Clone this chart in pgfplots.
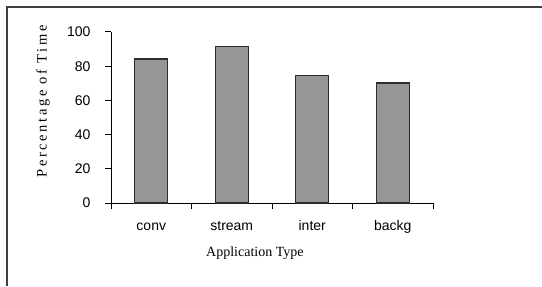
\documentclass[border=0pt]{standalone}
\usepackage{fontspec}
\setmainfont{Liberation Serif}
\newfontfamily\arial{Liberation Sans}
\newfontfamily\spaced[LetterSpace=18]{Liberation Serif}
\usepackage{pgfplots}
\pgfplotsset{compat=1.18}
\definecolor{barfill}{RGB}{150,150,150}
\definecolor{baredge}{RGB}{45,45,45}
\definecolor{frame}{RGB}{64,64,64}
\begin{document}
\begin{tikzpicture}[x=1bp,y=1bp]
\useasboundingbox (0,0) rectangle (542,286);
\draw[line width=1.2bp, frame] (7,0) -- (7,279) -- (542,279);
\begin{axis}[
  at={(111bp,83bp)}, anchor=south west,
  scale only axis, width=322bp, height=171bp,
  xmin=-0.5, xmax=3.5, ymin=0, ymax=100,
  axis x line=bottom, axis y line=left,
  axis line style={-, black, line width=1bp},
  tick align=outside,
  tick style={black, line width=1bp},
  major tick length=6bp,
  ytick={0,20,40,60,80,100},
  xtick={-0.5,0.5,1.5,2.5,3.5},
  xticklabels={},
  extra x ticks={0,1,2,3},
  extra x tick labels={conv,stream,inter,backg},
  extra x tick style={major tick length=0pt, tick label style={anchor=base, yshift=-27bp}},
  /pgf/number format/assume math mode=true,
  ticklabel style={font=\arial\fontsize{14bp}{16bp}\selectfont},
  yticklabel style={xshift=-11bp},
  xlabel={Application Type},
  xlabel style={at={(axis description cs:0.447,-0.31)}, anchor=base, font=\fontsize{14bp}{16bp}\selectfont},
  ylabel={Percentage of Time},
  ylabel style={at={(axis description cs:-0.211,0.595)}, anchor=center, font=\spaced\fontsize{14.5bp}{16bp}\selectfont},
  clip=false,
]
\addplot[ybar, bar width=0.41, fill=barfill, draw=baredge, line width=1.3bp]
  coordinates {(0,84.2) (1,91.7) (2,74.5) (3,70.2)};
\end{axis}
\end{tikzpicture}
\end{document}
